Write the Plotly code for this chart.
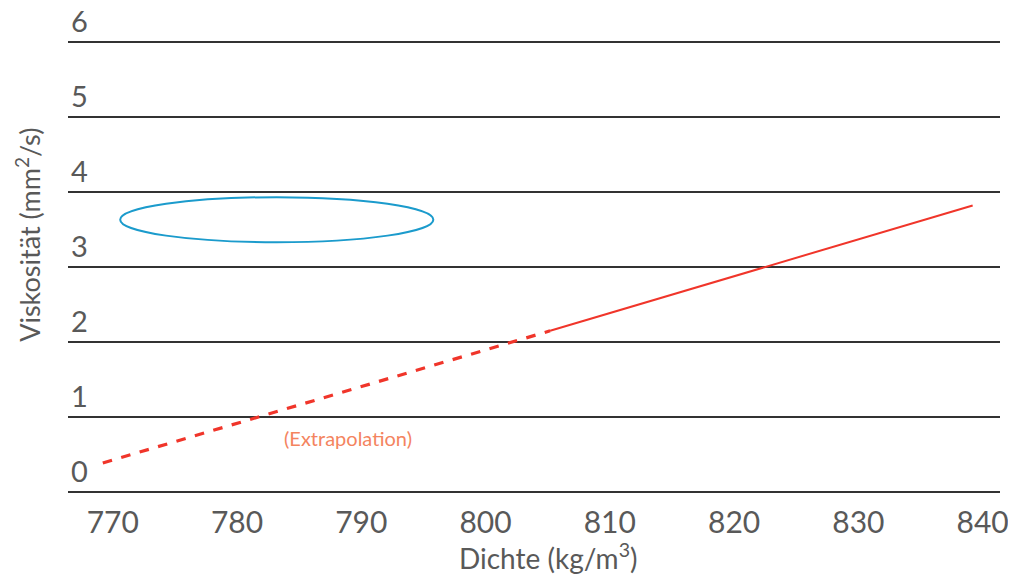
import plotly.graph_objects as go

# Data
dash_x = [769.2, 805.2]
dash_y = [0.39, 2.15]
solid_x = [805.2, 839.2]
solid_y = [2.15, 3.82]
ellipse_x = [770.6, 795.8]
ellipse_y = [3.33, 3.93]
x_ticks = [770, 780, 790, 800, 810, 820, 830, 840]
y_ticks = [0, 1, 2, 3, 4, 5, 6]
note_text = "(Extrapolation)"
note_pos = (788.9, 0.72)

FONT = "Lato"
TICK_COLOR = "#595959"
RED = "#f0352a"

fig = go.Figure()
fig.add_trace(go.Scatter(x=dash_x, y=dash_y, mode="lines",
                         line=dict(color=RED, width=3.2, dash="dash"),
                         hoverinfo="skip", showlegend=False))
fig.add_trace(go.Scatter(x=solid_x, y=solid_y, mode="lines",
                         line=dict(color=RED, width=2),
                         hoverinfo="skip", showlegend=False))

fig.add_shape(type="circle", xref="x", yref="y",
              x0=ellipse_x[0], x1=ellipse_x[1], y0=ellipse_y[0], y1=ellipse_y[1],
              line=dict(color="#1b9bcc", width=2))

fig.add_annotation(x=note_pos[0], y=note_pos[1], text=note_text, showarrow=False,
                   font=dict(family=FONT, size=20, color="#f4845f"))

fig.add_annotation(xref="paper", yref="paper", x=-0.043, y=0.57,
                   xanchor="center", yanchor="middle",
                   text="Viskosität (mm<sup>2</sup>/s)", textangle=-90, showarrow=False,
                   font=dict(family=FONT, size=27, color=TICK_COLOR))
fig.add_annotation(xref="paper", yref="paper", x=0.515, y=-0.132,
                   xanchor="center", yanchor="middle",
                   text="Dichte (kg/m<sup>3</sup>)", showarrow=False,
                   font=dict(family=FONT, size=28, color=TICK_COLOR))

fig.update_xaxes(range=[766.4, 841.4], tickvals=x_ticks, showgrid=False, zeroline=False,
                 showline=False, ticks="", ticklabelstandoff=6, automargin=False,
                 ticklabeloverflow="allow",
                 tickfont=dict(family=FONT, size=30, color=TICK_COLOR))
fig.update_yaxes(range=[-0.05, 6.05], tickvals=y_ticks, showgrid=True,
                 gridcolor="#333333", gridwidth=1.6, zeroline=False, showline=False,
                 ticks="", ticklabelposition="inside top", ticklabeloverflow="allow",
                 automargin=False,
                 tickfont=dict(family=FONT, size=29, color=TICK_COLOR))

fig.update_layout(width=1008, height=566,
                  margin=dict(l=60, r=16, t=30.25, b=78.25),
                  plot_bgcolor="white", paper_bgcolor="white")

fig.write_html("out.html")
